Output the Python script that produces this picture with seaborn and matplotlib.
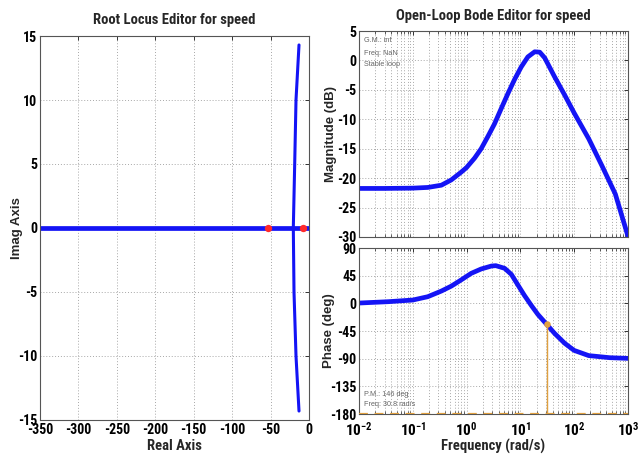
import os
import numpy as np
import matplotlib
matplotlib.use("Agg")
import matplotlib.pyplot as plt
from matplotlib import font_manager
from matplotlib.font_manager import FontProperties
from matplotlib.ticker import LogLocator, NullFormatter
import seaborn as sns

# ---- root locus data ----
rl_real_x = [-350.0, 0.0]
rl_real_y = [0.0, 0.0]
rl_upper_x = [-20.4, -18.6, -16.9, -13.0]
rl_upper_y = [0.0, 5.0, 10.0, 14.3]
rl_lower_x = [-20.4, -19.5, -16.9, -13.0]
rl_lower_y = [0.0, -5.0, -10.0, -14.3]
cl_poles_x = [-53.2, -7.8]
cl_poles_y = [0.0, 0.0]

# ---- open-loop Bode data ----
mag_freq = [0.01, 0.03, 0.1, 0.19, 0.34, 0.52, 0.79, 1.0, 1.41, 1.87, 2.5,
            3.3, 4.4, 5.9, 7.8, 10.4, 13.8, 18.5, 23.0, 28.4, 43.5, 67.0,
            100.0, 187.0, 330.0, 585.0, 1000.0]
mag_db = [-21.75, -21.75, -21.7, -21.58, -21.2, -20.3, -19.0, -18.2, -16.6,
          -15.0, -12.9, -10.8, -8.2, -5.6, -3.25, -1.1, 0.6, 1.47, 1.4, 0.44,
          -2.8, -5.9, -8.9, -13.3, -17.9, -22.7, -29.8]
phase_freq = [0.01, 0.035, 0.1, 0.19, 0.34, 0.52, 0.79, 1.22, 1.87, 2.9, 3.5,
              5.1, 6.8, 9.0, 11.9, 15.9, 21.2, 30.8, 43.5, 67.0, 100.0, 187.0,
              460.0, 1000.0]
phase_deg = [0.5, 2.7, 5.4, 10.8, 20.0, 28.0, 38.0, 48.8, 55.9, 60.7, 61.3,
             57.0, 47.2, 30.0, 13.0, -3.0, -18.0, -34.0, -49.0, -65.0, -76.5,
             -85.0, -88.4, -89.5]
pm_freq = 30.8
pm_value = 146
pm_phase = -34.0

real_ticks = [-350, -300, -250, -200, -150, -100, -50, 0]
imag_ticks = [-15, -10, -5, 0, 5, 10, 15]
mag_ticks = [5, 0, -5, -10, -15, -20, -25, -30]
phase_ticks = [90, 45, 0, -45, -90, -135, -180]

sns.set_theme(style="white")


def pick_narrow_font():
    """Return (family, stretch) of an installed narrow bold face, or None."""
    candidates = [("Liberation Sans Narrow", "normal"), ("Arial Narrow", "normal"),
                  ("Roboto Condensed", "normal"), ("Open Sans Condensed", "normal"),
                  ("Noto Sans Condensed", "normal"), ("DejaVu Sans Condensed", "normal"),
                  ("Noto Sans", "condensed"), ("Open Sans", "condensed"),
                  ("DejaVu Sans", "condensed"), ("Roboto", "condensed")]
    for fam, st in candidates:
        try:
            path = font_manager.findfont(FontProperties(family=fam, stretch=st, weight="bold"),
                                         fallback_to_default=False)
        except Exception:
            continue
        base = os.path.basename(path).lower()
        if "narrow" in base or "cond" in base:
            return fam, st
    return None


narrow = pick_narrow_font()
if narrow:
    NARROW_FAM, NARROW_STRETCH = narrow
    TICK_FS, TITLE_FS, XLAB_FS = 10, 10.5, 10.5
else:
    NARROW_FAM, NARROW_STRETCH = "Liberation Sans", "normal"
    TICK_FS, TITLE_FS, XLAB_FS = 8.5, 8.5, 9.5

plt.rcParams["font.family"] = [NARROW_FAM, "Liberation Sans", "DejaVu Sans"]
plt.rcParams["font.stretch"] = NARROW_STRETCH
plt.rcParams["font.weight"] = "bold"
plt.rcParams["axes.unicode_minus"] = False
plt.rcParams["mathtext.fontset"] = "custom"
plt.rcParams["mathtext.bf"] = "Liberation Sans:bold"
plt.rcParams["mathtext.rm"] = "Liberation Sans:bold"
plt.rcParams["mathtext.default"] = "bf"

WIDE = ["Liberation Sans", "DejaVu Sans"]
BLUE = "#1414f5"
ORANGE = "#e0a040"
RED = "#ff2a2a"
GRID = dict(color="#a8a8a8", linestyle=(0, (1, 2)), linewidth=0.7)
LINE_KW = dict(solid_joinstyle="round", solid_capstyle="round")

fig = plt.figure(figsize=(6.4, 4.54), dpi=100)
ax_rl = fig.add_axes([0.0625, 0.0749, 0.4203, 0.8458])
ax_mag = fig.add_axes([0.561, 0.478, 0.420, 0.4537])
ax_ph = fig.add_axes([0.561, 0.0881, 0.420, 0.3656], sharex=ax_mag)


def style_axes(ax):
    for sp in ax.spines.values():
        sp.set_color("#555555")
        sp.set_linewidth(0.8)
    ax.tick_params(direction="in", length=3, width=0.7, colors="#333333",
                   top=True, right=True, labelsize=TICK_FS, pad=2)
    ax.tick_params(which="minor", direction="in", length=2, width=0.5,
                   top=True, bottom=True)
    for lab in ax.get_xticklabels() + ax.get_yticklabels():
        lab.set_color("black")
        lab.set_fontweight("bold")


# ---- root locus ----
for bx, by, lw in [(rl_real_x, rl_real_y, 3.4), (rl_upper_x, rl_upper_y, 2.2),
                   (rl_lower_x, rl_lower_y, 2.2)]:
    sns.lineplot(x=bx, y=by, sort=False, estimator=None, ax=ax_rl,
                 color=BLUE, linewidth=lw, **LINE_KW)
sns.scatterplot(x=cl_poles_x, y=cl_poles_y, ax=ax_rl, color=RED, s=28,
                edgecolor=RED, linewidth=0, zorder=5)
ax_rl.set_xlim(-350, 0)
ax_rl.set_ylim(-15, 15)
ax_rl.set_xticks(real_ticks)
ax_rl.set_yticks(imag_ticks)
ax_rl.grid(True, **GRID)
ax_rl.set_title("Root Locus Editor for speed", fontsize=TITLE_FS, fontweight="bold", pad=9)
ax_rl.set_xlabel("Real Axis", fontsize=XLAB_FS, fontweight="bold")
ax_rl.xaxis.set_label_coords(0.5, -0.049)
ax_rl.set_ylabel("Imag Axis", fontsize=9.5, fontweight="bold", family=WIDE)
ax_rl.yaxis.set_label_coords(-0.063, 0.5)
style_axes(ax_rl)

# ---- magnitude ----
sns.lineplot(x=mag_freq, y=mag_db, ax=ax_mag, color=BLUE, linewidth=3.4,
             estimator=None, sort=False, **LINE_KW)
ax_mag.set_xscale("log")
ax_mag.set_xlim(1e-2, 1e3)
ax_mag.set_ylim(-30, 5)
ax_mag.set_yticks(mag_ticks)
ax_mag.xaxis.set_minor_locator(LogLocator(base=10, subs=np.arange(2, 10), numticks=20))
ax_mag.grid(True, which="both", axis="x", **GRID)
ax_mag.grid(True, which="major", axis="y", **GRID)
ax_mag.tick_params(labelbottom=False)
ax_mag.set_xlabel("")
ax_mag.set_ylabel("Magnitude (dB)", fontsize=9.5, fontweight="bold", family=WIDE)
ax_mag.yaxis.set_label_coords(-0.082, 0.5)
ax_mag.set_title("Open-Loop Bode Editor for speed", fontsize=TITLE_FS, fontweight="bold", pad=8)
for t, yy in zip(["G.M.: inf", "Freq: NaN", "Stable loop"], [0.956, 0.893, 0.835]):
    ax_mag.text(0.018, yy, t, transform=ax_mag.transAxes, fontsize=5.2,
                color="#666666", fontweight="normal", va="center", family=WIDE)
style_axes(ax_mag)

# ---- phase ----
sns.lineplot(x=phase_freq, y=phase_deg, ax=ax_ph, color=BLUE, linewidth=3.4,
             estimator=None, sort=False, **LINE_KW)
ax_ph.axhline(-180, color=ORANGE, linewidth=1.6, linestyle=(0, (4, 3)), zorder=4)
ax_ph.vlines(pm_freq, -180, pm_phase, color=ORANGE, linewidth=1.0, zorder=4)
sns.scatterplot(x=[pm_freq], y=[pm_phase], ax=ax_ph, color=ORANGE, s=22,
                linewidth=0, zorder=6)
ax_ph.set_xscale("log")
ax_ph.set_xlim(1e-2, 1e3)
ax_ph.set_ylim(-180, 90)
ax_ph.set_yticks(phase_ticks)
ax_ph.xaxis.set_major_locator(LogLocator(base=10, numticks=10))
ax_ph.xaxis.set_minor_locator(LogLocator(base=10, subs=np.arange(2, 10), numticks=20))
ax_ph.xaxis.set_minor_formatter(NullFormatter())
ax_ph.grid(True, which="both", axis="x", **GRID)
ax_ph.grid(True, which="major", axis="y", **GRID)
ax_ph.set_xlabel("Frequency (rad/s)", fontsize=XLAB_FS, fontweight="bold")
ax_ph.xaxis.set_label_coords(0.5, -0.15)
ax_ph.set_ylabel("Phase (deg)", fontsize=9.5, fontweight="bold", family=WIDE)
ax_ph.yaxis.set_label_coords(-0.09, 0.5)
ax_ph.text(0.018, 0.12, f"P.M.: {pm_value} deg", transform=ax_ph.transAxes,
           fontsize=5.2, color="#666666", fontweight="normal", va="center", family=WIDE)
ax_ph.text(0.018, 0.06, f"Freq: {pm_freq} rad/s", transform=ax_ph.transAxes,
           fontsize=5.2, color="#666666", fontweight="normal", va="center", family=WIDE)
style_axes(ax_ph)
ax_ph.tick_params(axis="x", labelsize=TICK_FS + 1, pad=5)

fig.savefig("out.png", dpi=100)
